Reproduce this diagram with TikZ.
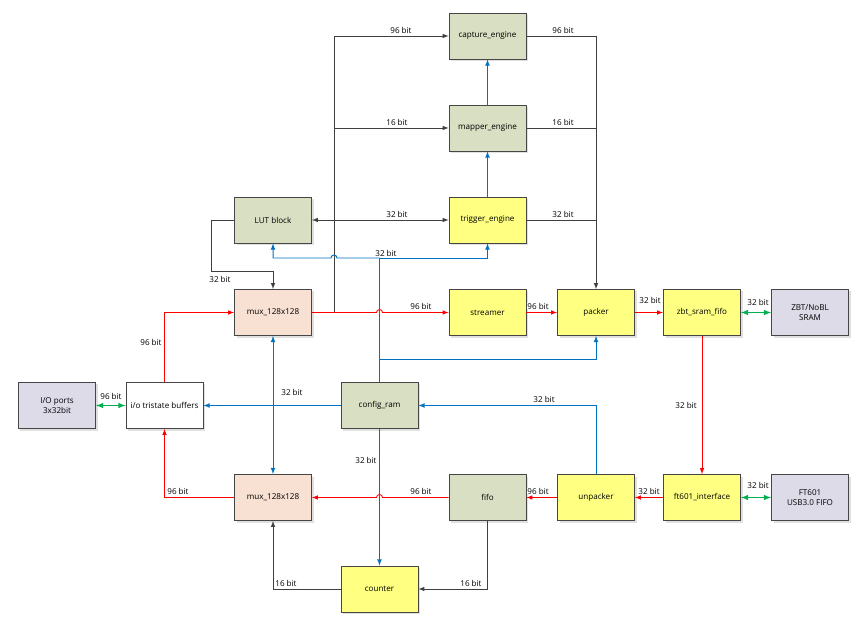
\documentclass[tikz,border=0pt]{standalone}
\usepackage{fontspec}
\setmainfont{Open Sans}
\usetikzlibrary{arrows,shapes,shadows}

\definecolor{boxline}{RGB}{70,70,70}
\definecolor{olivebox}{RGB}{216,223,194}
\definecolor{yellowbox}{RGB}{255,255,130}
\definecolor{peachbox}{RGB}{248,224,210}
\definecolor{lilacbox}{RGB}{222,219,233}
\definecolor{wirered}{RGB}{255,0,0}
\definecolor{wireblue}{RGB}{0,112,192}
\definecolor{wiregreen}{RGB}{0,176,80}
\definecolor{wiredark}{RGB}{64,64,64}

\begin{document}
\begin{tikzpicture}[x=0.03cm, y=-0.03cm, font=\fontsize{6.9}{8.5}\selectfont]
				\tikzstyle{block}=[draw=boxline, line width=0.7pt, minimum width=2.31cm, minimum height=1.38cm, align=center, drop shadow={shadow xshift=0.06cm, shadow yshift=-0.06cm, fill=black!12, opacity=1}]
				\tikzstyle{lbl}=[inner sep=0pt, fill=white]
				\tikzstyle{darkwire}=[draw=wiredark, line width=0.75pt]
				\tikzstyle{redwire}=[draw=wirered, line width=0.75pt]
				\tikzstyle{bluewire}=[draw=wireblue, line width=0.85pt]
				\tikzstyle{greenwire}=[draw=wiregreen, line width=1.1pt]
				\newcommand\Xports{57}
				\newcommand\Xio{164.5}
				\newcommand\Xlut{211}
				\newcommand\Xmux{273}
				\newcommand\Xbus{334}
				\newcommand\Xcfg{379.5}
				\newcommand\Xeng{487.5}
				\newcommand\Xpack{596}
				\newcommand\Xzbt{702}
				\newcommand\Xext{810}

				\newcommand\Ycap{36}
				\newcommand\Ymap{128}
				\newcommand\Ytrig{220}
				\newcommand\Ybus{258}
				\newcommand\Ylut{271}
				\newcommand\Ymuxa{312.5}
				\newcommand\Ypk{359}
				\newcommand\Ycfg{405.5}
				\newcommand\Ymuxb{497.5}
				\newcommand\Ycnt{589}

				\useasboundingbox (0,0) rectangle (867,627);

				 % Engines
				\node [block, fill=olivebox] at (\Xeng,\Ycap) (cap) {capture\_engine};
				\node [block, fill=olivebox] at (\Xeng,\Ymap) (map) {mapper\_engine};
				\node [block, fill=yellowbox] at (\Xeng,\Ytrig) (trig) {trigger\_engine};
				\node [block, fill=olivebox] at (\Xmux,\Ytrig) (lut) {LUT block};

				 % Data path
				\node [block, fill=peachbox] at (\Xmux,\Ymuxa) (muxa) {mux\_128x128};
				\node [block, fill=yellowbox] at (\Xeng,\Ymuxa) (stream) {streamer};
				\node [block, fill=yellowbox] at (\Xpack,\Ymuxa) (pack) {packer};
				\node [block, fill=yellowbox] at (\Xzbt,\Ymuxa) (zbt) {zbt\_sram\_fifo};
				\node [block, fill=lilacbox] at (\Xext,\Ymuxa) (sram) {ZBT/NoBL\\SRAM};

				\node [block, fill=lilacbox] at (\Xports,\Ycfg) (ports) {I/O ports\\3x32bit};
				\node [block, fill=white] at (\Xio,\Ycfg) (io) {i/o tristate buffers};
				\node [block, fill=olivebox] at (\Xcfg,\Ycfg) (cfg) {config\_ram};

				\node [block, fill=peachbox] at (\Xmux,\Ymuxb) (muxb) {mux\_128x128};
				\node [block, fill=olivebox] at (\Xeng,\Ymuxb) (fifo) {fifo};
				\node [block, fill=yellowbox] at (\Xpack,\Ymuxb) (unpack) {unpacker};
				\node [block, fill=yellowbox] at (\Xzbt,\Ymuxb) (ft) {ft601\_interface};
				\node [block, fill=lilacbox] at (\Xext,\Ymuxb) (usb) {FT601\\USB3.0 FIFO};

				\node [block, fill=yellowbox] at (\Xcfg,\Ycnt) (cnt) {counter};

				 % Dark wires
				\path [darkwire, -latex] (muxa.east) -| (\Xbus,\Ycap) -- (cap.west);
				\path [darkwire, -latex] (\Xbus,\Ymap) -- (map.west);
				\path [darkwire, -latex] (cap.east) -| (pack.north);
				\path [darkwire] (map.east) -- (\Xpack,\Ymap);
				\path [darkwire] (trig.east) -- (\Xpack,\Ytrig);
				\path [darkwire, latex-latex] (lut.east) -- (trig.west);
				\path [darkwire, -latex] (lut.west) -- (\Xlut,\Ytrig) -- (\Xlut,\Ylut) -| (muxa.north);
				\path [darkwire, -latex] (fifo.south) |- (cnt.east);
				\path [darkwire, -latex] (cnt.west) -| (muxb.south);

				 % Red wires
				\path [redwire, -latex] (muxa.east) -- (\Xcfg-3,\Ymuxa) arc [start angle=180, end angle=0, radius=0.09cm] -- (stream.west);
				\path [redwire, -latex] (stream.east) -- (pack.west);
				\path [redwire, -latex] (pack.east) -- (zbt.west);
				\path [redwire, -latex] (zbt.south) -- (ft.north);
				\path [redwire, -latex] (ft.west) -- (unpack.east);
				\path [redwire, -latex] (unpack.west) -- (fifo.east);
				\path [redwire, -latex] (fifo.west) -- (\Xcfg+3,\Ymuxb) arc [start angle=0, end angle=180, radius=0.09cm] -- (muxb.east);
				\path [redwire, -latex] (muxb.west) -| (io.south);
				\path [redwire, -latex] (io.north) |- (muxa.west);

				 % Blue wires
				\path [bluewire, -latex] (cfg.north) -- (\Xcfg,\Ybus) -| (trig.south);
				\path [bluewire, -latex] (\Xcfg,\Ybus) -- (\Xbus+3,\Ybus) arc [start angle=0, end angle=180, radius=0.09cm] -| (lut.south);
				\path [bluewire, -latex] (\Xcfg,\Ypk) -| (pack.south);
				\path [bluewire, -latex] (trig.north) -- (map.south);
				\path [bluewire, -latex] (map.north) -- (cap.south);
				\path [bluewire, -latex] (cfg.west) -- (io.east);
				\path [bluewire, latex-latex] (muxa.south) -- (muxb.north);
				\path [bluewire, -latex] (unpack.north) |- (cfg.east);
				\path [bluewire, -latex] (cfg.south) -- (cnt.north);

				 % Green wires
				\path [greenwire, latex-latex] (ports.east) -- (io.west);
				\path [greenwire, latex-latex] (zbt.east) -- (sram.west);
				\path [greenwire, latex-latex] (ft.east) -- (usb.west);

				 % Labels
				\node [lbl] at (401,30) (l1) {96 bit};
				\node [lbl] at (397,122) (l2) {16 bit};
				\node [lbl] at (563,30) (l3) {96 bit};
				\node [lbl] at (563,122) (l4) {16 bit};
				\node [lbl] at (397,214) (l5) {32 bit};
				\node [lbl] at (563,214) (l6) {32 bit};
				\node [lbl] at (386,253) (l7) {32 bit};
				\node [lbl] at (220,279) (l8) {32 bit};
				\node [lbl] at (421,306) (l9) {96 bit};
				\node [lbl] at (538,306) (l10) {96 bit};
				\node [lbl] at (650,300) (l11) {32 bit};
				\node [lbl] at (758,302) (l12) {32 bit};
				\node [lbl] at (151,342) (l13) {96 bit};
				\node [lbl] at (111,396) (l14) {96 bit};
				\node [lbl] at (292,392) (l15) {32 bit};
				\node [lbl] at (544,399) (l16) {32 bit};
				\node [lbl] at (686,405) (l17) {32 bit};
				\node [lbl] at (366,460) (l18) {32 bit};
				\node [lbl] at (178,491) (l19) {96 bit};
				\node [lbl] at (421,491) (l20) {96 bit};
				\node [lbl] at (538,491) (l21) {96 bit};
				\node [lbl] at (649,491) (l22) {32 bit};
				\node [lbl] at (758,485) (l23) {32 bit};
				\node [lbl] at (286,583) (l24) {16 bit};
				\node [lbl] at (471,583) (l25) {16 bit};

			\end{tikzpicture}
\end{document}
